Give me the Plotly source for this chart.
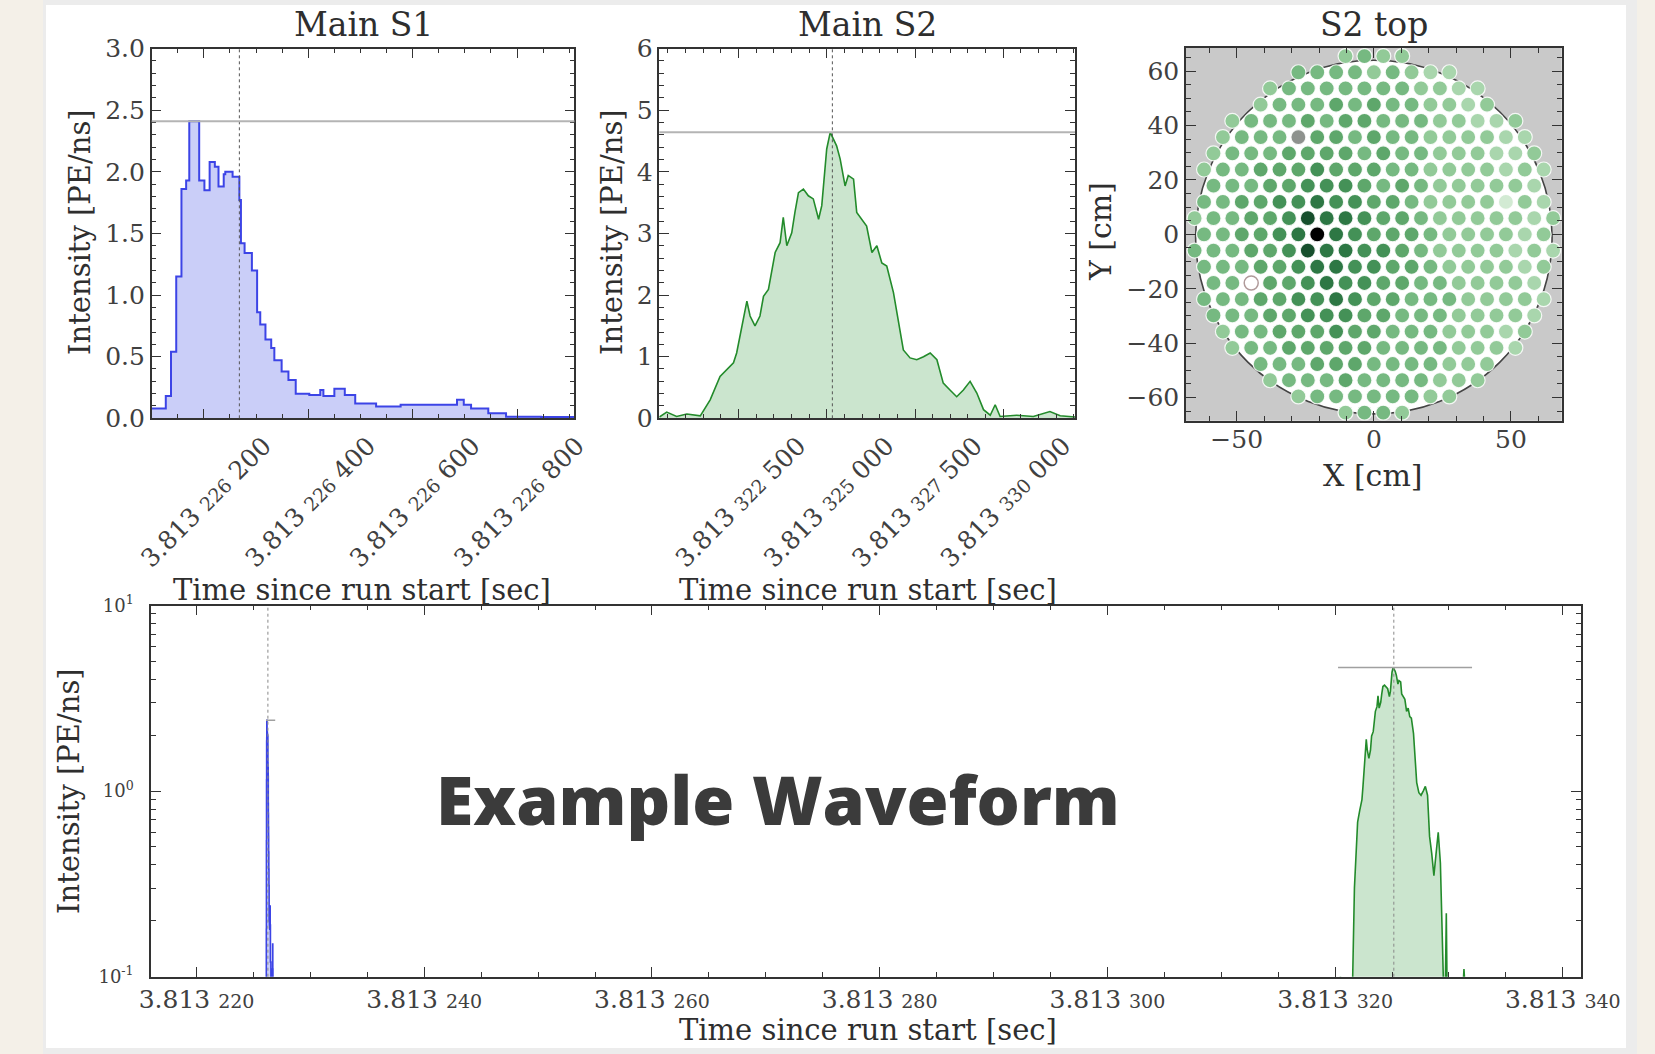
import plotly.graph_objects as go

W, H = 1655, 1054

# ---------------- data ----------------
# Main S1: time in ns after 3.813 s (step left edges), intensity in PE/ns
s1_time_ns = [226100, 226127, 226137, 226147, 226157, 226166, 226172, 226191, 226201, 226211,
              226221, 226228, 226238, 226241, 226255, 226268, 226271, 226278, 226292, 226302,
              226308, 226318, 226329, 226335, 226349, 226362, 226376, 226402, 226423, 226429,
              226450, 226470, 226490, 226530, 226577, 226685, 226698, 226712, 226745, 226779,
              226846, 226910]
s1_intensity = [0.08, 0.18, 0.54, 1.15, 1.86, 1.93, 2.41, 1.93, 1.85, 2.08,
                2.04, 1.88, 1.98, 2.00, 1.96, 1.77, 1.42, 1.34, 1.20, 0.86,
                0.76, 0.64, 0.57, 0.47, 0.38, 0.31, 0.20, 0.19, 0.23, 0.18,
                0.24, 0.19, 0.12, 0.095, 0.11, 0.15, 0.11, 0.08, 0.04, 0.013,
                0.01, 0.01]

# Main S2: time in ns after 3.813 s, intensity in PE/ns
s2_time_ns = [320260, 320470, 320750, 321040, 321420, 321700, 321980, 322170, 322360, 322450,
              322590, 322740, 322830, 322970, 323110, 323210, 323350, 323440, 323540, 323680,
              323770, 323870, 324010, 324100, 324200, 324340, 324480, 324620, 324770, 324860,
              325000, 325100, 325190, 325280, 325380, 325520, 325610, 325760, 325850, 325990,
              326130, 326280, 326420, 326560, 326700, 326890, 327030, 327170, 327360, 327550,
              327740, 327930, 328120, 328300, 328490, 328680, 328870, 329060, 329250, 329440,
              329630, 329770, 329910, 330380, 330850, 331320, 331610, 332030]
s2_intensity = [0.02, 0.10, 0.03, 0.07, 0.04, 0.30, 0.68, 0.79, 0.90, 1.06,
                1.44, 1.90, 1.66, 1.50, 1.66, 1.98, 2.09, 2.36, 2.69, 2.85,
                3.26, 2.80, 3.01, 3.34, 3.66, 3.72, 3.61, 3.56, 3.23, 3.45,
                4.37, 4.64, 4.53, 4.42, 4.21, 3.77, 3.94, 3.88, 3.34, 3.23,
                3.12, 2.69, 2.80, 2.52, 2.47, 2.04, 1.55, 1.11, 0.98, 0.95,
                1.00, 1.06, 0.95, 0.57, 0.46, 0.35, 0.46, 0.60, 0.41, 0.14,
                0.05, 0.22, 0.03, 0.05, 0.03, 0.11, 0.04, 0.02]

s1_center_ns = 226268
s2_center_ns = 325160

# S1 / S2 panel x tick labels
s1_tickvals = [226200, 226400, 226600, 226800]
s1_ticklabels = [("3.813", "226", "200"), ("3.813", "226", "400"),
                 ("3.813", "226", "600"), ("3.813", "226", "800")]
s2_tickvals = [322500, 325000, 327500, 330000]
s2_ticklabels = [("3.813", "322", "500"), ("3.813", "325", "000"),
                 ("3.813", "327", "500"), ("3.813", "330", "000")]
wf_tickvals = [220000, 240000, 260000, 280000, 300000, 320000, 340000]
wf_ticklabels = [("3.813", "220"), ("3.813", "240"), ("3.813", "260"), ("3.813", "280"),
                 ("3.813", "300"), ("3.813", "320"), ("3.813", "340")]

# S2 top hit pattern: one string per hexagonal PMT row (top -> bottom),
# digits = relative shade 0 (light) .. 9 (black), g = dead (grey), w = empty
pmt_rows = [
    "3433",
    "444434322",
    "344444443322",
    "3444545443323",
    "3444545544433223",
    "3444g554544333322",
    "344455554544333223",
    "3445556555443333232",
    "444556665454333332",
    "4455667665543333032",
    "34455687765543333323",
    "4455679765554333323",
    "44455687766543333232",
    "4445567766554333323",
    "44w556766554433332",
    "4445566765544433332",
    "444556665544433332",
    "34455565544433323",
    "3445555544443332",
    "4445554444333",
    "344454444333",
    "344444433",
    "3443",
]
pmt_pitch_cm = 6.88
tpc_radius_cm = 65.0

# ---------------- helpers ----------------
def px_x(p):
    return p / W

def px_y(p):
    return 1 - p / H

SERIF = "DejaVu Serif"
TXT = "#2e2e2e"
TICK = "#404040"

def tick3(parts):
    a, b, c = parts
    return f"{a} <span style='font-size:19px'>{b}</span> {c}"

def tick2(parts):
    a, b = parts
    return f"{a} <span style='font-size:19px'>{b}</span>"

def axis(**kw):
    d = dict(showline=True, linecolor="#333", linewidth=1.5, mirror="allticks",
             ticks="inside", ticklen=10, tickwidth=1.4, tickcolor="#333",
             showgrid=False, zeroline=False,
             tickfont=dict(family=SERIF, size=25, color=TICK))
    d.update(kw)
    return d

def minor(dt, **kw):
    d = dict(ticks="inside", ticklen=5, tickwidth=1, tickcolor="#333", dtick=dt, showgrid=False)
    d.update(kw)
    return d

fig = go.Figure()

S1_LINE = "#3c44e6"
S1_FILL = "rgba(95,105,235,0.33)"
S2_LINE = "#238b2b"
S2_FILL = "rgba(70,160,80,0.28)"

# Panel 1: Main S1
fig.add_trace(go.Scatter(x=s1_time_ns, y=s1_intensity, mode="lines", line_shape="hv",
                         line=dict(color=S1_LINE, width=2), fill="tozeroy", fillcolor=S1_FILL,
                         xaxis="x", yaxis="y", hoverinfo="skip"))
# Panel 2: Main S2
fig.add_trace(go.Scatter(x=s2_time_ns, y=s2_intensity, mode="lines",
                         line=dict(color=S2_LINE, width=1.6), fill="tozeroy", fillcolor=S2_FILL,
                         xaxis="x2", yaxis="y2", hoverinfo="skip"))

# Panel 3: S2 top hit pattern
n_rows = len(pmt_rows)
row_h = pmt_pitch_cm * 3 ** 0.5 / 2
px_, py_, pc_ = [], [], []
dead_x, dead_y, empty_x, empty_y = [], [], [], []
for r, row in enumerate(pmt_rows):
    k = (n_rows - 1) / 2 - r
    n = len(row)
    for i, ch in enumerate(row):
        xx = (i - (n - 1) / 2) * pmt_pitch_cm
        yy = k * row_h
        if ch == "g":
            dead_x.append(xx); dead_y.append(yy)
        elif ch == "w":
            empty_x.append(xx); empty_y.append(yy)
        else:
            px_.append(xx); py_.append(yy); pc_.append(int(ch))

greens = [[0.0, "#d2ead3"], [2 / 9, "#a9d6ad"], [3 / 9, "#92ca98"], [4 / 9, "#76b981"],
          [5 / 9, "#5ea76b"], [6 / 9, "#449157"], [7 / 9, "#2d7744"], [8 / 9, "#174f2d"],
          [1.0, "#000000"]]
fig.add_trace(go.Scatter(x=px_, y=py_, mode="markers",
                         marker=dict(size=15, color=pc_, cmin=0, cmax=9, colorscale=greens,
                                     line=dict(color="rgba(255,255,255,0.85)", width=1.2)),
                         xaxis="x3", yaxis="y3", hoverinfo="skip"))
fig.add_trace(go.Scatter(x=dead_x, y=dead_y, mode="markers",
                         marker=dict(size=15, color="#8e928e",
                                     line=dict(color="rgba(255,255,255,0.85)", width=1.2)),
                         xaxis="x3", yaxis="y3", hoverinfo="skip"))
fig.add_trace(go.Scatter(x=empty_x, y=empty_y, mode="markers",
                         marker=dict(size=14, color="#ffffff",
                                     line=dict(color="#b09a9a", width=1.5)),
                         xaxis="x3", yaxis="y3", hoverinfo="skip"))

# Panel 4: full waveform (log)
BASE = 1e-3
for t, v, lc, fc, shp in [(s1_time_ns, s1_intensity, S1_LINE, S1_FILL, "hv"),
                          (s2_time_ns, s2_intensity, S2_LINE, S2_FILL, "linear")]:
    fig.add_trace(go.Scatter(x=[t[0]] + t + [t[-1]], y=[BASE] + v + [BASE], mode="lines",
                             line_shape=shp, line=dict(color=lc, width=1.6),
                             fill="toself", fillcolor=fc, xaxis="x4", yaxis="y4",
                             hoverinfo="skip"))

# ---------------- shapes ----------------
shapes = [
    dict(type="rect", xref="paper", yref="paper", x0=px_x(43), x1=px_x(1637), y0=0, y1=1,
         fillcolor="#ececec", line=dict(width=0), layer="below"),
    dict(type="rect", xref="paper", yref="paper", x0=px_x(46), x1=px_x(1626), y0=px_y(1048),
         y1=px_y(5), fillcolor="#ffffff", line=dict(width=0), layer="below"),
    dict(type="rect", xref="x3 domain", yref="y3 domain", x0=0, x1=1, y0=0, y1=1,
         fillcolor="#c9c9c9", line=dict(width=0), layer="below"),
    dict(type="circle", xref="x3", yref="y3", x0=-tpc_radius_cm, x1=tpc_radius_cm,
         y0=-tpc_radius_cm - 1, y1=tpc_radius_cm - 1, fillcolor="#ffffff",
         line=dict(color="#444", width=1.6), layer="below"),
]
s1_max, s2_max = max(s1_intensity), max(s2_intensity)
for xr, yr, c, m in [("x", "y", s1_center_ns, s1_max), ("x2", "y2", s2_center_ns, s2_max)]:
    shapes.append(dict(type="line", xref=xr, yref=yr + " domain", x0=c, x1=c, y0=0, y1=1,
                       line=dict(color="#555", width=1, dash="3px,3px")))
    shapes.append(dict(type="line", xref=xr + " domain", yref=yr, x0=0, x1=1, y0=m, y1=m,
                       line=dict(color="#b4b4b4", width=2)))
for c in [s1_center_ns, s2_center_ns]:
    shapes.append(dict(type="line", xref="x4", yref="y4 domain", x0=c, x1=c, y0=0, y1=1,
                       line=dict(color="#888", width=1, dash="3px,3px")))
for t, m in [(s1_time_ns, s1_max), (s2_time_ns, s2_max)]:
    shapes.append(dict(type="line", xref="x4", yref="y4", x0=t[0], x1=t[-1], y0=m, y1=m,
                       line=dict(color="#a0a0a0", width=1.5)))

# ---------------- annotations ----------------
def ann(text, x, y, size, angle=0, color=TXT, family=SERIF, weight=None):
    f = dict(family=family, size=size, color=color)
    if weight:
        f["weight"] = weight
    return dict(text=text, x=px_x(x), y=px_y(y), xref="paper", yref="paper",
                showarrow=False, textangle=angle, font=f, xanchor="center", yanchor="middle")

annotations = [
    ann("Main S1", 363, 24, 33),
    ann("Main S2", 867, 24, 33),
    ann("S2 top", 1374, 25, 33),
    ann("Intensity [PE/ns]", 80, 232, 29, -90),
    ann("Intensity [PE/ns]", 612, 232, 29, -90),
    ann("Y [cm]", 1101, 232, 30, -90),
    ann("Time since run start [sec]", 362, 590, 29),
    ann("Time since run start [sec]", 868, 590, 29),
    ann("X [cm]", 1373, 475, 30),
    ann("Intensity [PE/ns]", 69, 791, 29, -90),
    ann("Time since run start [sec]", 868, 1030, 29),
    ann("Example Waveform", 778, 798, 68, family="Open Sans", color="#3b3b3b", weight=800),
]

fig.update_layout(
    width=W, height=H, autosize=False, template="none",
    margin=dict(l=0, r=0, t=0, b=0, pad=0),
    paper_bgcolor="#f4f0e8", plot_bgcolor="rgba(0,0,0,0)",
    showlegend=False,
    shapes=shapes, annotations=annotations,
    xaxis=axis(domain=[px_x(151.7), px_x(574.4)], anchor="y", range=[226100, 226910],
               tickmode="array", tickvals=s1_tickvals, ticktext=[tick3(p) for p in s1_ticklabels],
               tickangle=-45, ticklabelshift=60, ticklabelstandoff=1,
               minor=minor(50, tick0=226100)),
    yaxis=axis(domain=[px_y(418.3), px_y(48.5)], anchor="x", range=[0, 3.0], dtick=0.5,
               tickformat=".1f", minor=minor(0.1)),
    xaxis2=axis(domain=[px_x(659.3), px_x(1075)], anchor="y2", range=[320260, 332030],
                tickmode="array", tickvals=s2_tickvals, ticktext=[tick3(p) for p in s2_ticklabels],
                tickangle=-45, ticklabelshift=60, ticklabelstandoff=1,
                minor=minor(500, tick0=0)),
    yaxis2=axis(domain=[px_y(418.3), px_y(48.5)], anchor="x2", range=[0, 6], dtick=1,
                minor=minor(0.2)),
    xaxis3=axis(domain=[px_x(1186), px_x(1561.7)], anchor="y3", range=[-68.5, 68.5],
                tickmode="array", tickvals=[-50, 0, 50], minor=minor(10, tick0=0),
                ticklabelstandoff=-4),
    yaxis3=axis(domain=[px_y(420.7), px_y(48)], anchor="x3", range=[-68.5, 68.5],
                dtick=20, tick0=0, minor=minor(5, tick0=0)),
    xaxis4=axis(domain=[px_x(151), px_x(1581)], anchor="y4", range=[216000, 341600],
                tickmode="array", tickvals=wf_tickvals, ticktext=[tick2(p) for p in wf_ticklabels],
                minor=minor(5000, tick0=0)),
    yaxis4=axis(domain=[px_y(976.7), px_y(605.5)], anchor="x4", type="log", range=[-1, 1],
                tickmode="array", tickvals=[0.1, 1, 10],
                ticktext=["10<sup>-1</sup>", "10<sup>0</sup>", "10<sup>1</sup>"],
                ticklabelstandoff=12,
                minor=dict(ticks="inside", ticklen=5, tickwidth=1, tickcolor="#333", showgrid=False,
                           tickmode="array",
                           tickvals=[m * 0.1 for m in range(2, 10)] + [m * 1.0 for m in range(2, 10)]),
                tickfont=dict(family=SERIF, size=18, color=TICK)),
)

fig.write_html("out.html", config={"displayModeBar": False},
               post_script="document.body.style.margin='0px';"
                           "document.body.style.background='#f4f0e8';")
